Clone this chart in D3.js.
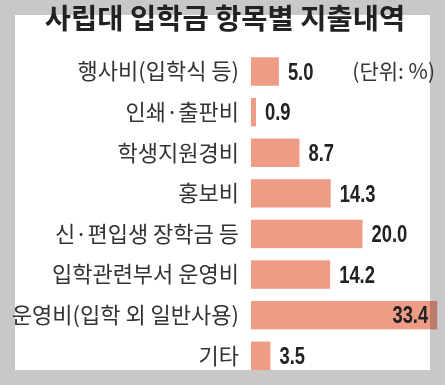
<!DOCTYPE html>
<html>
<head>
<meta charset="utf-8">
<script src="https://cdn.jsdelivr.net/npm/d3@7"></script>
<style>
  body { margin: 0; background: #c8c8c8; }
  svg { display: block; }
</style>
</head>
<body>
<div id="chart"></div>
<script>
  const title = "사립대 입학금 항목별 지출내역";
  const unitLabel = "(단위: %)";
  const categories = [
    "행사비(입학식 등)",
    "인쇄·출판비",
    "학생지원경비",
    "홍보비",
    "신·편입생 장학금 등",
    "입학관련부서 운영비",
    "운영비(입학 외 일반사용)",
    "기타"
  ];
  const values = [5.0, 0.9, 8.7, 14.3, 20.0, 14.2, 33.4, 3.5];

  const W = 445, H = 385;
  const panel = { left: 15, top: 15, right: 430, bottom: 370 };
  const korFont = "'Noto Sans CJK KR', 'Noto Sans', sans-serif";
  const numFont = "'Liberation Sans', Arial, sans-serif";

  const svg = d3.select("#chart").append("svg")
      .attr("width", W)
      .attr("height", H);

  // gray frame + white panel
  svg.append("rect").attr("width", W).attr("height", H).attr("fill", "#c8c8c8");
  svg.append("rect")
      .attr("x", panel.left).attr("y", panel.top)
      .attr("width", panel.right - panel.left)
      .attr("height", panel.bottom - panel.top)
      .attr("fill", "#fff");

  const x = d3.scaleLinear().domain([0, 40]).range([251, 474]);
  const y = d3.scaleBand()
      .domain(categories)
      .range([57.3, 370])
      .paddingInner(0.3)
      .paddingOuter(0);

  const rows = categories.map((c, i) => ({ name: c, value: values[i] }));

  // bars (multiply so the part over the gray frame gets darker)
  svg.append("g").selectAll("rect")
    .data(rows)
    .enter().append("rect")
      .attr("x", x(0))
      .attr("y", d => y(d.name))
      .attr("width", d => x(d.value) - x(0))
      .attr("height", y.bandwidth())
      .attr("fill", "#ef9c87")
      .style("mix-blend-mode", "multiply");

  // category labels
  svg.append("g").selectAll("text")
    .data(rows)
    .enter().append("text")
      .attr("x", 239)
      .attr("y", d => y(d.name) + y.bandwidth() / 2)
      .attr("dy", "0.36em")
      .attr("text-anchor", "end")
      .style("font-family", korFont)
      .style("font-size", "22px")
      .style("fill", "#333")
      .text(d => d.name);

  // value labels, condensed
  svg.append("g").selectAll("text")
    .data(rows)
    .enter().append("text")
      .each(function (d) {
        const inside = x(d.value) + 40 > panel.right;
        d.inside = inside;
        d.lx = inside ? x(d.value) - 9 : x(d.value) + 9;
      })
      .attr("transform", d => "translate(" + d.lx + "," + (y(d.name) + y.bandwidth() / 2) + ") scale(0.8,1)")
      .attr("dy", "0.36em")
      .attr("text-anchor", d => d.inside ? "end" : "start")
      .style("font-family", numFont)
      .style("font-weight", "bold")
      .style("font-size", "23px")
      .style("fill", "#222")
      .text(d => d.value.toFixed(1));

  // unit note
  svg.append("text")
      .attr("x", 435)
      .attr("y", y(categories[0]) + y.bandwidth() / 2)
      .attr("dy", "0.36em")
      .attr("text-anchor", "end")
      .style("font-family", korFont)
      .style("font-size", "21px")
      .style("fill", "#333")
      .text(unitLabel);

  // title
  svg.append("text")
      .attr("x", 225)
      .attr("y", 29)
      .attr("text-anchor", "middle")
      .style("font-family", korFont)
      .style("font-weight", "bold")
      .style("font-size", "28.5px")
      .style("fill", "#222")
      .text(title);
</script>
</body>
</html>
